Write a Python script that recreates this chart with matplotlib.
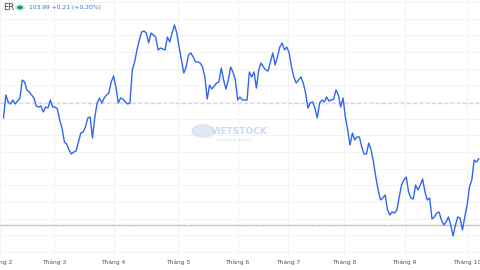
import numpy as np
import matplotlib.pyplot as plt

# daily close, one value per session
close = [110.1, 113.55, 112.5, 112.2, 112.8, 112.2, 112.65, 113.1, 115.8, 115.5,
         114.3, 114.0, 113.55, 113.1, 111.9, 111.75, 111.9, 111.0, 111.75, 111.6,
         112.8, 111.75, 111.75, 111.45, 109.8, 108.6, 106.5, 106.2, 105.3, 104.7,
         105.0, 105.15, 106.5, 107.85, 108.0, 108.75, 110.1, 110.25, 107.1, 110.25,
         112.35, 113.1, 112.35, 113.1, 113.55, 113.85, 115.5, 116.4, 114.75, 112.35,
         113.1, 112.95, 112.5, 112.2, 112.35, 117.3, 118.5, 120.3, 121.8, 123.0,
         123.15, 122.85, 121.35, 122.85, 122.55, 122.25, 120.3, 120.6, 120.45, 120.3,
         122.25, 121.5, 122.85, 124.05, 122.85, 120.75, 118.8, 116.85, 117.75, 119.55,
         119.85, 119.25, 118.5, 118.5, 118.35, 117.75, 116.25, 112.95, 115.05, 114.45,
         114.9, 115.35, 115.5, 117.6, 115.8, 114.45, 115.8, 117.75, 117.0, 115.8,
         112.8, 113.25, 112.8, 112.8, 112.8, 117.0, 116.25, 117.0, 114.6, 117.3,
         118.35, 117.75, 117.3, 117.15, 118.5, 119.85, 118.05, 119.25, 120.75, 121.35,
         120.3, 120.75, 119.85, 117.75, 116.25, 115.35, 115.8, 116.25, 115.35, 113.85,
         111.6, 112.35, 112.5, 111.6, 110.1, 112.35, 112.8, 112.5, 113.25, 112.65,
         112.8, 112.95, 114.3, 113.55, 111.75, 113.1, 110.25, 108.3, 106.05, 107.85,
         106.8, 107.25, 107.25, 105.75, 104.7, 104.7, 106.35, 105.3, 103.5, 101.25,
         99.3, 97.8, 98.1, 98.55, 96.3, 95.55, 96.0, 95.85, 96.3, 98.25,
         100.05, 100.8, 101.25, 99.0, 98.1, 97.95, 100.05, 99.3, 100.05, 100.95,
         99.0, 97.8, 98.1, 94.95, 95.25, 95.85, 96.0, 94.8, 94.05, 94.5,
         95.25, 94.05, 92.4, 94.05, 95.25, 95.1, 93.3, 95.25, 97.05, 99.75,
         100.8, 103.8, 103.5, 103.99]

month_labels = ['Tháng 2', 'Tháng 3', 'Tháng 4', 'Tháng 5', 'Tháng 6',
                'Tháng 7', 'Tháng 8', 'Tháng 9', 'Tháng 10']
month_start = [-1.5, 21.5, 47, 74.5, 100, 121.7, 145.5, 171.3, 198]

ref_price = 112.35
low_line = 94.05
last_text = '103.99 +0.21 (+0.20%)'

fig = plt.figure(figsize=(4.8, 2.7), dpi=100)
ax = fig.add_axes([0, 13 / 270, 1, 257 / 270])

sessions = np.arange(len(close))
ax.plot(sessions, close, color='#3166f2', lw=1.0, zorder=3)

ax.axhline(ref_price, color='#d0d8f4', lw=1.0, ls=(0, (3, 1.5)), zorder=2)
ax.axhline(low_line, color='#f2a8a8', lw=1.0, ls=(0, (2, 2)), zorder=2)
ax.axhline(low_line, color='#aedbae', lw=1.0, ls=(2, (2, 2)), zorder=2)

ax.set_xlim(0, len(close) - 0.5)
ax.set_ylim(89.25, 127.8)
ax.set_yticks(np.arange(90, 128, 2.5))
ax.set_xticks(month_start)
ax.set_xticklabels(month_labels, fontsize=4.3, color='#555555')
ax.tick_params(axis='x', length=0, pad=2)
ax.tick_params(axis='y', length=0, labelleft=False)
ax.grid(True, color='#f3f3f3', lw=0.7)
ax.set_axisbelow(True)
for s in ax.spines.values():
    s.set_visible(False)

# watermark
fig.patches.append(plt.Circle((203 / 480, 1 - 131 / 270), 0.023, transform=fig.transFigure,
                              color='#d6e4f2', alpha=0.8, zorder=0))
fig.text(211 / 480, 1 - 131 / 270, 'VIETSTOCK', fontsize=6.5, fontweight='bold',
         color='#c5d6ee', va='center', ha='left', alpha=0.9)
fig.text(216 / 480, 1 - 140 / 270, 'connecting  growth', fontsize=2.5,
         color='#d0dcee', va='center', ha='left')

# legend row at the top
fig.text(14 / 480, 1 - 8 / 270, 'ER', fontsize=6, color='#444444', ha='right', va='center')
fig.patches.append(plt.Circle((20 / 480, 1 - 7.5 / 270), 0.009, transform=fig.transFigure,
                              color='#cdeee3', zorder=5))
fig.patches.append(plt.Circle((20 / 480, 1 - 7.5 / 270), 0.0045, transform=fig.transFigure,
                              color='#159b70', zorder=6))
fig.text(29 / 480, 1 - 7.5 / 270, last_text, fontsize=4.3, color='#3a6bd6',
         ha='left', va='center')

fig.savefig('out.png', dpi=100)
